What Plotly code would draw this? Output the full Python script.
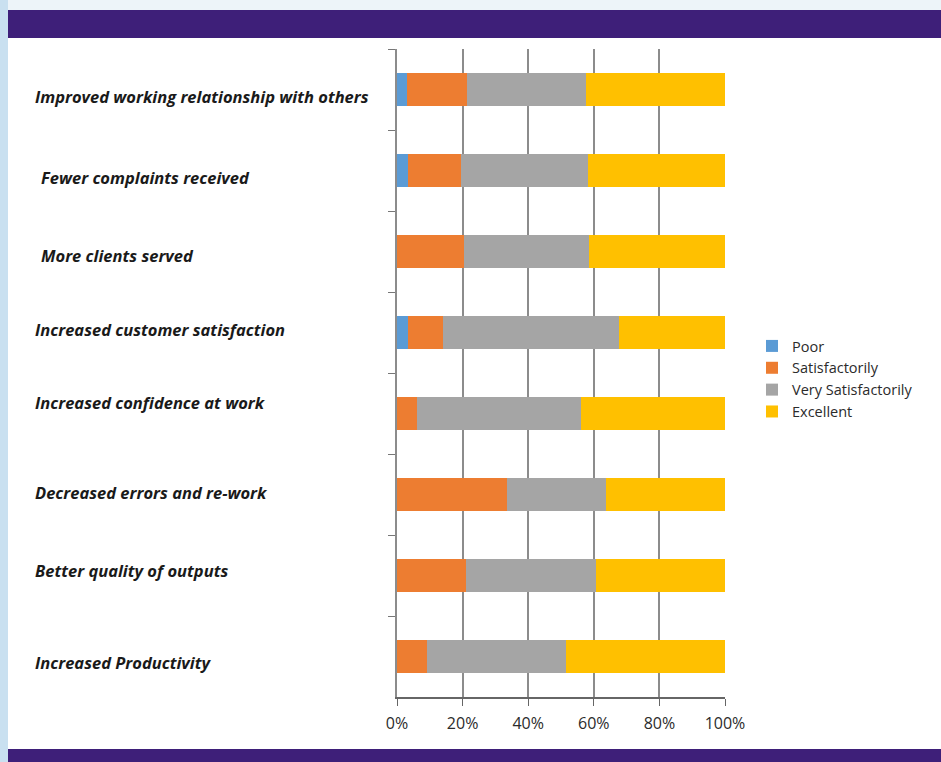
import plotly.graph_objects as go

# Survey outcome categories, top to bottom
categories = [
    "Improved working relationship with others",
    "Fewer complaints received",
    "More clients served",
    "Increased customer satisfaction",
    "Increased confidence at work",
    "Decreased errors and re-work",
    "Better quality of outputs",
    "Increased Productivity",
]

# Share of respondents (%) per rating
poor = [3.0, 3.3, 0.0, 3.5, 0.0, 0.0, 0.0, 0.0]
satisfactorily = [18.2, 16.1, 20.5, 10.6, 6.2, 33.4, 21.1, 9.0]
very_satisfactorily = [36.4, 38.7, 38.0, 53.7, 50.0, 30.2, 39.6, 42.4]
excellent = [42.4, 41.9, 41.5, 32.2, 43.8, 36.4, 39.3, 48.6]

series_names = ["Poor", "Satisfactorily", "Very Satisfactorily", "Excellent"]
series_colors = ["#5B9BD5", "#ED7D31", "#A5A5A5", "#FFC000"]

x_ticks = [0, 20, 40, 60, 80, 100]
x_tick_labels = ["0%", "20%", "40%", "60%", "80%", "100%"]

# Page geometry (pixels)
W, H = 941, 762
PL, PR, PT, PB = 397, 725, 49, 697

# Left-hand label placement (pixel x, pixel y of the text centre)
label_x = [33, 39, 39, 33, 33, 33, 33, 33]
label_y = [96, 177, 256, 329, 402, 492, 570, 662]


def px_x(px):
    return (px - PL) / (PR - PL)


def px_y(py):
    return (PB - py) / (PB - PT)


fig = go.Figure()
for name, vals, col in zip(series_names,
                           [poor, satisfactorily, very_satisfactorily, excellent],
                           series_colors):
    fig.add_trace(go.Bar(
        y=categories, x=vals, name=name, orientation="h",
        marker=dict(color=col, line=dict(width=0)),
    ))

shapes = [
    # light blue frame (top strip and left strip)
    dict(type="rect", xref="paper", yref="paper", x0=px_x(0), x1=px_x(W),
         y0=px_y(0), y1=px_y(10), fillcolor="#edf4f9", line_width=0, layer="below"),
    dict(type="rect", xref="paper", yref="paper", x0=px_x(0), x1=px_x(8),
         y0=px_y(0), y1=px_y(H), fillcolor="#c9e0f0", line_width=0, layer="below"),
    # purple header and footer bands
    dict(type="rect", xref="paper", yref="paper", x0=px_x(8), x1=px_x(W),
         y0=px_y(10), y1=px_y(38), fillcolor="#3E1F79", line_width=0, layer="below"),
    dict(type="rect", xref="paper", yref="paper", x0=px_x(8), x1=px_x(W),
         y0=px_y(749), y1=px_y(H), fillcolor="#3E1F79", line_width=0, layer="below"),
]

annotations = []
for text, lx, ly in zip(categories, label_x, label_y):
    annotations.append(dict(
        text=text, xref="paper", yref="paper", x=px_x(lx), y=px_y(ly),
        xanchor="left", yanchor="middle", showarrow=False,
        font=dict(family="Open Sans", size=16.5, color="#1a1a1a",
                  weight="bold", style="italic"),
    ))

fig.update_layout(
    width=W, height=H,
    margin=dict(l=PL, r=W - PR, t=PT, b=H - PB, pad=0),
    paper_bgcolor="white", plot_bgcolor="white",
    barmode="stack", bargap=0.59,
    shapes=shapes, annotations=annotations,
    legend=dict(
        x=px_x(752), y=px_y(379), xanchor="left", yanchor="middle",
        traceorder="normal", bgcolor="rgba(0,0,0,0)",
        font=dict(family="Open Sans", size=14.5, color="#2b2b2b"),
        itemclick=False,
    ),
    xaxis=dict(
        range=[0, 100], tickmode="array", tickvals=x_ticks, ticktext=x_tick_labels,
        showgrid=True, gridcolor="#8c8c8c", gridwidth=1.6,
        zeroline=False, showline=True, linecolor="#666666", linewidth=1.5,
        ticks="outside", ticklen=7, tickcolor="#666666", tickwidth=1.2,
        ticklabelstandoff=4,
        tickfont=dict(family="Open Sans", size=16, color="#2b2b2b"),
        fixedrange=True,
    ),
    yaxis=dict(
        type="category", categoryorder="array", categoryarray=categories,
        range=[len(categories) - 0.5, -0.5],
        showticklabels=False, showgrid=False, zeroline=False,
        showline=True, linecolor="#8c8c8c", linewidth=1.5,
        ticks="outside", tickson="boundaries", ticklen=7,
        tickcolor="#777777", tickwidth=1.2,
        fixedrange=True,
    ),
)

fig.write_html("out.html")
